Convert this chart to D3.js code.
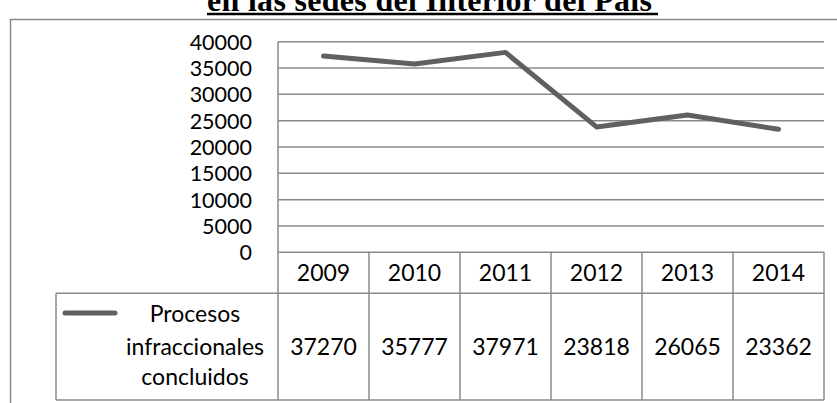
<!DOCTYPE html>
<html>
<head>
<meta charset="utf-8">
<script src="https://cdn.jsdelivr.net/npm/d3@7"></script>
<style>
  body { margin: 0; background: #fff; }
  svg { display: block; }
</style>
</head>
<body>
<svg id="chart" width="837" height="403"></svg>
<script>
// chart data
const years = ["2009", "2010", "2011", "2012", "2013", "2014"];
const procesos = [37270, 35777, 37971, 23818, 26065, 23362];
const yTicks = [0, 5000, 10000, 15000, 20000, 25000, 30000, 35000, 40000];
const seriesLabel = ["Procesos", "infraccionales", "concluidos"];
const titleText = "en las sedes del Interior del País";

const svg = d3.select("#chart");
const font = "Lato, 'Open Sans', sans-serif";
const tickSize = 21.5;   // axis labels are packed tight
const tableSize = 23;    // data table text
const gridColor = "#8a8a8a";
const lineColor = "#606060";

// plot area
const plotLeft = 278, plotRight = 824;
const plotTop = 41.7, plotBottom = 252.3;
const tableBottom = 400;
const headerBottom = 293.3;
const legendLeft = 56;

const x = d3.scaleBand().domain(years).range([plotLeft, plotRight]);
const y = d3.scaleLinear().domain([0, 40000]).range([plotBottom, plotTop]);

// title (cut off at the top of the picture)
svg.append("text")
    .attr("x", 207)
    .attr("y", 11)
    .attr("font-family", "'Liberation Serif', 'Times New Roman', serif")
    .attr("font-weight", "bold")
    .attr("font-size", 32)
    .attr("textLength", 445)
    .attr("fill", "#000")
    .text(titleText);

svg.append("line")
    .attr("x1", 207).attr("x2", 658)
    .attr("y1", 14).attr("y2", 14)
    .attr("stroke", "#000")
    .attr("stroke-width", 2.5);

// outer chart border (runs past the right and bottom edges)
svg.append("rect")
    .attr("x", 10.5).attr("y", 19.5)
    .attr("width", 900).attr("height", 500)
    .attr("fill", "none")
    .attr("stroke", gridColor)
    .attr("stroke-width", 1.5);

// gridlines
svg.append("g")
    .selectAll("line")
    .data(yTicks)
    .join("line")
    .attr("x1", plotLeft).attr("x2", plotRight)
    .attr("y1", d => y(d)).attr("y2", d => y(d))
    .attr("stroke", gridColor)
    .attr("stroke-width", 1.5);

// y tick labels
svg.append("g")
    .selectAll("text")
    .data(yTicks)
    .join("text")
    .attr("x", 252)
    .attr("y", d => y(d) + 8)
    .attr("text-anchor", "end")
    .attr("font-family", font)
    .attr("font-size", tickSize)
    .attr("fill", "#000")
    .text(d => d);

// left axis line, continuing down as the table border
svg.append("line")
    .attr("x1", plotLeft).attr("x2", plotLeft)
    .attr("y1", plotTop).attr("y2", tableBottom)
    .attr("stroke", gridColor)
    .attr("stroke-width", 1.5);

// data table: column dividers
svg.append("g")
    .selectAll("line")
    .data(years)
    .join("line")
    .attr("x1", d => x(d) + x.bandwidth())
    .attr("x2", d => x(d) + x.bandwidth())
    .attr("y1", plotBottom).attr("y2", tableBottom)
    .attr("stroke", gridColor)
    .attr("stroke-width", 1.5);

// horizontal table lines
svg.append("line")
    .attr("x1", legendLeft).attr("x2", plotRight)
    .attr("y1", headerBottom).attr("y2", headerBottom)
    .attr("stroke", gridColor).attr("stroke-width", 1.5);
svg.append("line")
    .attr("x1", legendLeft).attr("x2", plotRight)
    .attr("y1", tableBottom).attr("y2", tableBottom)
    .attr("stroke", gridColor).attr("stroke-width", 1.5);
svg.append("line")
    .attr("x1", legendLeft).attr("x2", legendLeft)
    .attr("y1", headerBottom).attr("y2", tableBottom)
    .attr("stroke", gridColor).attr("stroke-width", 1.5);

// header years
svg.append("g")
    .selectAll("text")
    .data(years)
    .join("text")
    .attr("x", d => x(d) + x.bandwidth() / 2)
    .attr("y", 281)
    .attr("text-anchor", "middle")
    .attr("font-family", font)
    .attr("font-size", tableSize)
    .attr("fill", "#000")
    .text(d => d);

// values row
svg.append("g")
    .selectAll("text")
    .data(procesos)
    .join("text")
    .attr("x", (d, i) => x(years[i]) + x.bandwidth() / 2)
    .attr("y", 355)
    .attr("text-anchor", "middle")
    .attr("font-family", font)
    .attr("font-size", tableSize)
    .attr("fill", "#000")
    .text(d => d);

// legend key + series label
svg.append("line")
    .attr("x1", 65).attr("x2", 115)
    .attr("y1", 313).attr("y2", 313)
    .attr("stroke", lineColor)
    .attr("stroke-width", 5)
    .attr("stroke-linecap", "round");

svg.append("g")
    .selectAll("text")
    .data(seriesLabel)
    .join("text")
    .attr("x", 195)
    .attr("y", (d, i) => [322, 355, 385][i])
    .attr("text-anchor", "middle")
    .attr("font-family", font)
    .attr("font-size", tableSize)
    .attr("fill", "#000")
    .text(d => d);

// the line
const line = d3.line()
    .x((d, i) => x(years[i]) + x.bandwidth() / 2)
    .y(d => y(d));

svg.append("path")
    .datum(procesos)
    .attr("d", line)
    .attr("fill", "none")
    .attr("stroke", lineColor)
    .attr("stroke-width", 5)
    .attr("stroke-linejoin", "round")
    .attr("stroke-linecap", "round");
</script>
</body>
</html>
